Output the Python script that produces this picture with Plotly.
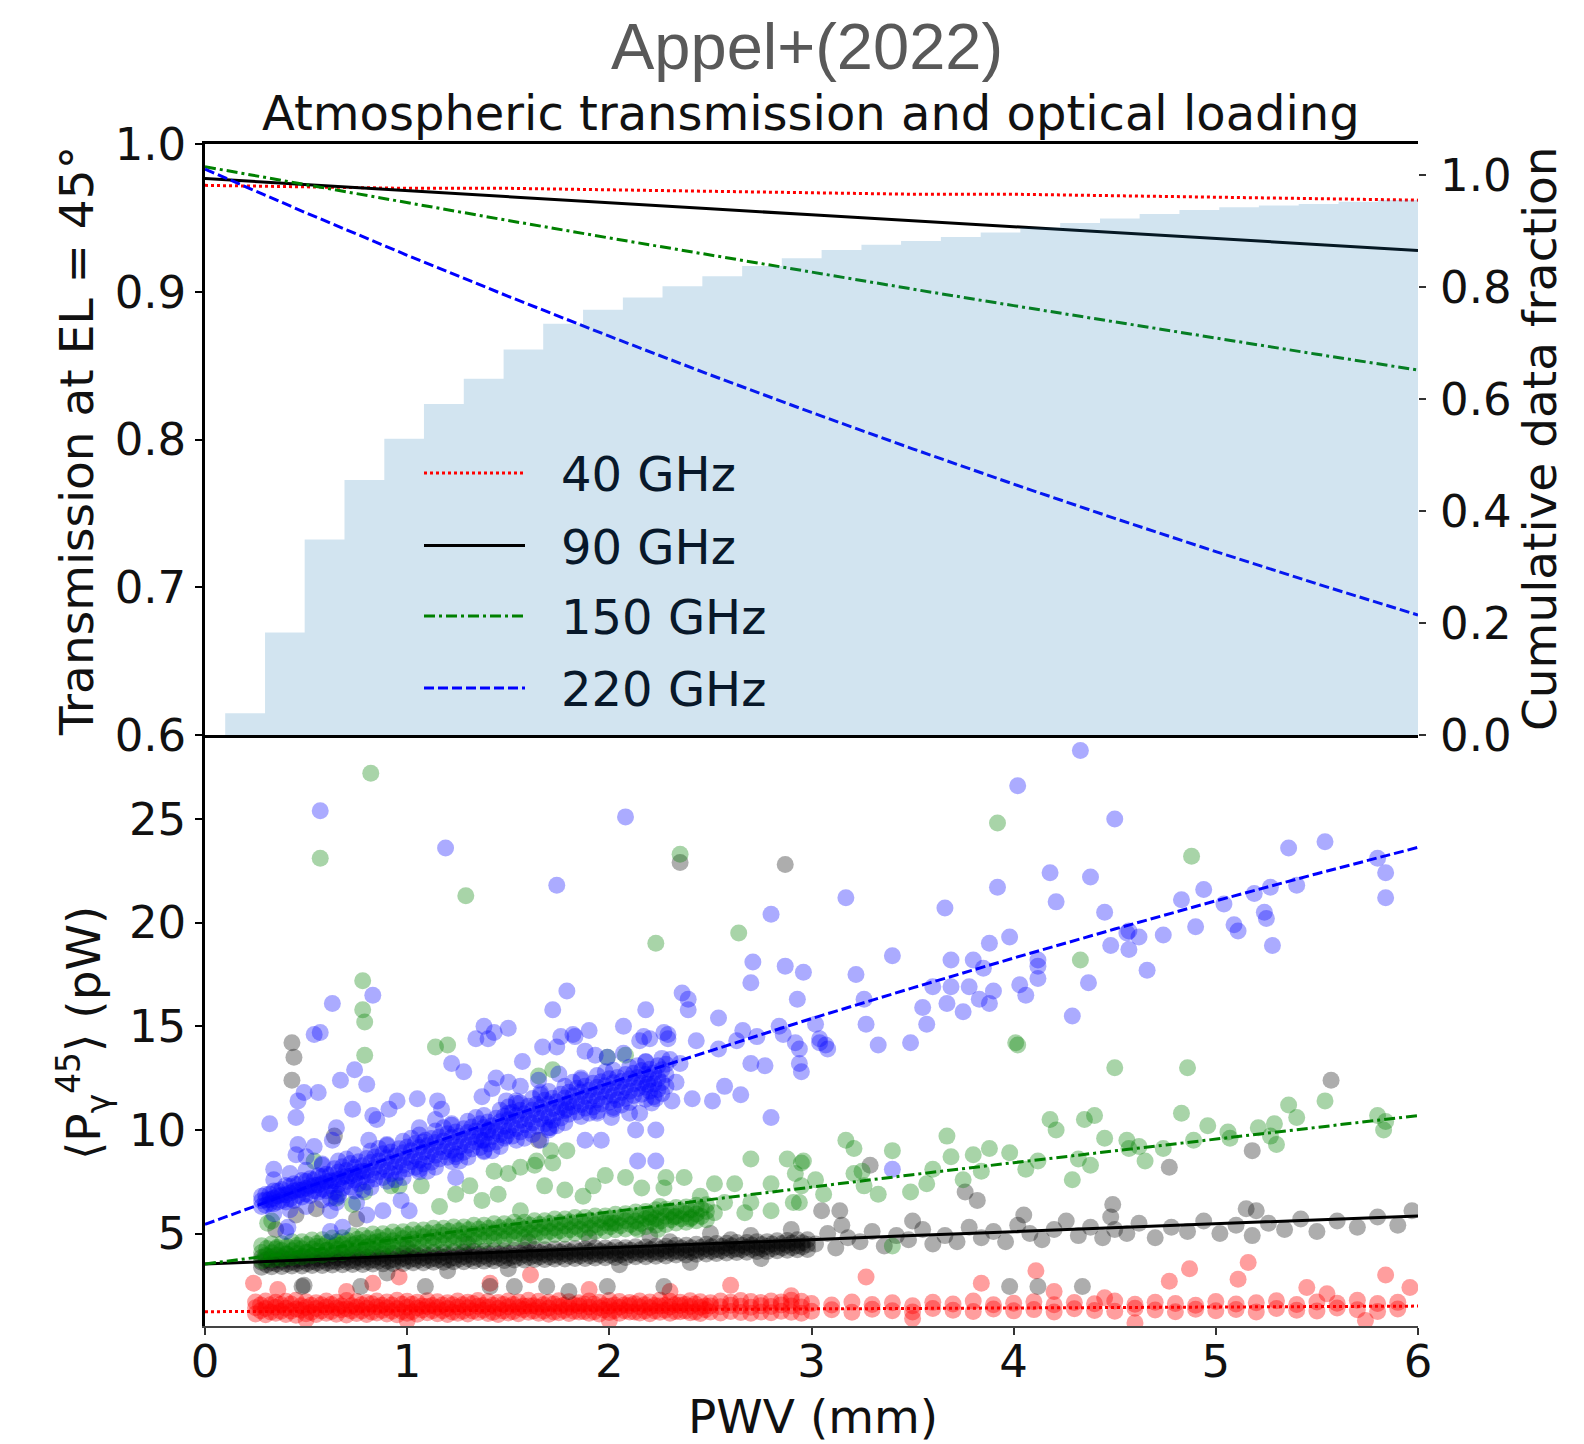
import plotly.graph_objects as go

FIG_W, FIG_H = 1584, 1444
PL, PR, PT, PB = 205, 1418, 144, 1326   # plot-area edges in px


def px_x(p):
    return (p - PL) / (PR - PL)


def px_y(p):
    return (PB - p) / (PB - PT)


# ---------------- top panel : transmission at EL=45 ----------------
pwv_grid = [0, 0.5, 1, 1.5, 2, 2.5, 3, 3.5, 4, 4.5, 5, 5.5, 6]
trans_40 = [0.972, 0.971, 0.970, 0.970, 0.969, 0.968, 0.967, 0.966, 0.966, 0.965, 0.964, 0.963, 0.962]
trans_90 = [0.9767, 0.9725, 0.9684, 0.9643, 0.9602, 0.9561, 0.9521, 0.9480, 0.9440, 0.9400, 0.9360, 0.9320, 0.9280]
trans_150 = [0.9846, 0.9724, 0.9602, 0.9482, 0.9364, 0.9247, 0.9132, 0.9018, 0.8906, 0.8795, 0.8685, 0.8577, 0.8470]
trans_220 = [0.983, 0.9534, 0.9247, 0.8969, 0.8699, 0.8437, 0.8183, 0.7937, 0.7698, 0.7466, 0.7241, 0.7023, 0.6812]

# cumulative data fraction (step histogram, right axis)
hist_edges = [0.100, 0.297, 0.493, 0.690, 0.887, 1.083, 1.280, 1.477, 1.673, 1.870, 2.067,
              2.263, 2.460, 2.657, 2.853, 3.050, 3.247, 3.443, 3.640, 3.837, 4.033,
              4.230, 4.427, 4.623, 4.820, 5.017, 5.213, 5.410, 5.607, 5.803, 6.000]
hist_cum = [0.039, 0.183, 0.349, 0.455, 0.529, 0.591, 0.636, 0.688, 0.734, 0.759,
            0.781, 0.801, 0.819, 0.837, 0.851, 0.866, 0.875, 0.882, 0.889, 0.897,
            0.906, 0.914, 0.922, 0.930, 0.937, 0.942, 0.945, 0.948, 0.952, 0.955]

# ---------------- bottom panel : optical loading fits ----------------
load_40 = [1.23, 1.25, 1.27, 1.30, 1.32, 1.34, 1.37, 1.39, 1.41, 1.43, 1.46, 1.48, 1.50]
load_90 = [3.53, 3.73, 3.92, 4.12, 4.31, 4.51, 4.70, 4.90, 5.09, 5.28, 5.47, 5.66, 5.85]
load_150 = [3.53, 4.17, 4.80, 5.42, 6.04, 6.65, 7.24, 7.84, 8.42, 8.99, 9.57, 10.13, 10.69]
load_220 = [5.44, 7.22, 8.95, 10.63, 12.26, 13.83, 15.37, 16.85, 18.29, 19.69, 21.05, 22.36, 23.63]

# ---------------- bottom panel : measured loading points ----------------
# ===== 220 GHz =====
blue_band_x = [0.28, 0.32, 0.36, 0.40, 0.44, 0.48, 0.52, 0.56, 0.60, 0.64,
               0.68, 0.72, 0.76, 0.80, 0.84, 0.88, 0.92, 0.96, 1.00, 1.04,
               1.08, 1.12, 1.16, 1.20, 1.24, 1.28, 1.32, 1.36, 1.40, 1.44,
               1.48, 1.52, 1.56, 1.60, 1.64, 1.68, 1.72, 1.76, 1.80, 1.84,
               1.88, 1.92, 1.96, 2.00, 2.04, 2.08, 2.12, 2.16, 2.20, 2.24, 2.28]
blue_band_lo = [6.30, 6.44, 6.52, 6.52, 6.60, 6.76, 6.84, 6.99, 7.06, 7.02,
                7.18, 7.24, 7.40, 7.48, 7.63, 7.70, 7.88, 7.95, 8.12, 8.20,
                8.36, 8.44, 8.60, 8.68, 8.84, 8.92, 9.08, 9.15, 9.32, 9.42,
                9.60, 9.70, 9.90, 9.99, 10.18, 10.28, 10.47, 10.58, 10.75, 10.86,
                11.05, 11.10, 11.25, 11.33, 11.46, 11.52, 11.66, 11.72, 11.87, 11.95, 12.10]
blue_band_mid = [6.58, 6.64, 6.82, 6.87, 7.05, 7.10, 7.29, 7.34, 7.51, 7.55,
                 7.73, 7.78, 7.96, 8.01, 8.19, 8.24, 8.43, 8.48, 8.67, 8.73,
                 8.92, 8.97, 9.16, 9.21, 9.40, 9.45, 9.64, 9.69, 9.88, 9.95,
                 10.17, 10.24, 10.46, 10.53, 10.74, 10.82, 11.03, 11.11, 11.32, 11.40,
                 11.61, 11.64, 11.82, 11.86, 12.03, 12.06, 12.23, 12.26, 12.43, 12.48, 12.67]
blue_band_hi = [6.80, 6.90, 7.05, 7.32, 7.40, 7.56, 7.64, 7.79, 7.86, 8.13,
                8.22, 8.38, 8.46, 8.62, 8.69, 8.85, 8.93, 9.09, 9.17, 9.34,
                9.42, 9.58, 9.66, 9.82, 9.90, 10.06, 10.14, 10.30, 10.38, 10.56,
                10.66, 10.85, 10.95, 11.14, 11.24, 11.43, 11.53, 11.72, 11.82, 12.01,
                12.10, 12.25, 12.32, 12.47, 12.53, 12.67, 12.73, 12.87, 12.93, 13.09, 13.17]
blue_band_b_x = [0.30, 0.34, 0.38, 0.42, 0.46, 0.50, 0.54, 0.58, 0.62, 0.66,
                 0.70, 0.74, 0.78, 0.82, 0.86, 0.90, 0.94, 0.98, 1.02, 1.06,
                 1.10, 1.14, 1.18, 1.22, 1.26, 1.30, 1.34, 1.38, 1.42, 1.46,
                 1.50, 1.54, 1.58, 1.62, 1.66, 1.70, 1.74, 1.78, 1.82, 1.86,
                 1.90, 1.94, 1.98, 2.02, 2.06, 2.10, 2.14, 2.18, 2.22, 2.26]
blue_band_b_lo = [6.36, 6.44, 6.60, 6.67, 6.83, 6.91, 7.07, 7.14, 7.29, 7.36,
                  7.51, 7.58, 7.74, 7.82, 7.97, 8.05, 8.21, 8.29, 8.46, 8.54,
                  8.70, 8.78, 8.94, 9.02, 9.18, 9.26, 9.42, 9.50, 9.67, 9.78,
                  9.96, 10.07, 10.25, 10.35, 10.54, 10.64, 10.83, 10.93, 11.12, 11.22,
                  11.38, 11.45, 11.60, 11.66, 11.80, 11.86, 12.00, 12.06, 12.21, 12.29]
blue_band_b_hi = [6.88, 7.05, 7.13, 7.28, 7.36, 7.52, 7.60, 7.75, 7.82, 7.97,
                  8.04, 8.19, 8.27, 8.43, 8.50, 8.66, 8.74, 8.90, 8.99, 9.15,
                  9.23, 9.39, 9.47, 9.63, 9.71, 9.87, 9.95, 10.11, 10.20, 10.39,
                  10.49, 10.68, 10.78, 10.96, 11.07, 11.25, 11.36, 11.54, 11.65, 11.83,
                  11.91, 12.06, 12.13, 12.27, 12.33, 12.47, 12.53, 12.67, 12.74, 12.90]
blue_cloud_x = [0.34, 0.42, 0.50, 0.58, 0.66, 0.74, 0.82, 0.90, 0.98, 1.06,
                1.14, 1.22, 1.30, 1.38, 1.46, 1.54, 1.62, 1.70, 1.78, 1.86,
                1.94, 2.02, 2.10, 2.18, 2.26]
blue_cloud_lo = [5.95, 6.15, 6.30, 6.62, 6.80, 7.05, 7.22, 7.52, 7.70, 7.98,
                 8.20, 8.48, 8.68, 8.95, 9.20, 9.50, 9.78, 10.10, 10.35, 10.65,
                 10.90, 11.08, 11.32, 11.48, 11.75]
blue_cloud_hi = [7.60, 7.90, 8.05, 8.35, 8.50, 8.80, 8.98, 9.25, 9.45, 9.75,
                 9.95, 10.22, 10.42, 10.70, 10.95, 11.28, 11.52, 11.85, 12.10, 12.42,
                 12.62, 12.88, 13.02, 13.28, 13.45]
blue_dense_x = [0.30, 0.34, 0.38, 0.42, 0.46, 0.50, 0.54, 0.58, 0.62, 0.66, 0.70, 0.74, 0.78]
blue_dense_y = [6.62, 6.70, 6.86, 6.95, 7.10, 7.18, 7.33, 7.40, 7.55, 7.62, 7.78, 7.85, 8.00]
blue_scatter = [
    (0.57, 25.4), (1.19, 23.6), (2.08, 25.1), (1.74, 21.8), (2.80, 20.4), (2.71, 18.1), (2.70, 17.1),
    (2.87, 17.9), (2.96, 17.6), (2.93, 16.3), (1.79, 16.7), (1.72, 15.8), (2.18, 15.8), (2.36, 16.6),
    (2.39, 16.3), (2.39, 15.8), (2.54, 15.4), (2.07, 15.0), (1.90, 14.8), (1.83, 14.5), (2.29, 14.4),
    (2.66, 14.8), (2.84, 15.0), (0.83, 16.5), (0.63, 16.1), (0.57, 14.7), (1.38, 15.0), (1.40, 14.4),
    (1.50, 14.9), (1.74, 14.0),
    (4.33, 28.3), (4.02, 26.6), (4.50, 25.0), (5.36, 23.6), (5.54, 23.9), (5.80, 23.1), (5.84, 22.4),
    (5.84, 21.2), (3.17, 21.2), (3.66, 20.7), (3.92, 21.7), (4.18, 22.4), (4.38, 22.2), (4.21, 21.0),
    (4.45, 20.5), (4.94, 21.6), (4.83, 21.1), (5.04, 20.9), (5.19, 21.4), (5.27, 21.7), (5.40, 21.8),
    (5.24, 20.5), (5.25, 20.2), (5.09, 19.9), (5.11, 19.6), (5.28, 18.9), (4.90, 19.8), (4.74, 19.4),
    (4.62, 19.3), (4.57, 19.6), (4.48, 18.9), (4.57, 18.7), (4.66, 17.7), (4.37, 17.1), (4.29, 15.5),
    (4.12, 18.2), (4.12, 17.9), (4.12, 17.3), (4.03, 17.0), (4.06, 16.5), (3.98, 19.3), (3.88, 19.0),
    (3.80, 18.2), (3.69, 18.2), (3.85, 17.8), (3.78, 16.9), (3.90, 16.7), (3.83, 16.3), (3.88, 16.1),
    (3.69, 16.9), (3.60, 16.9), (3.67, 16.1), (3.55, 15.9), (3.75, 15.7), (3.57, 15.1), (3.40, 18.4),
    (3.22, 17.5), (3.26, 16.3), (3.02, 15.1), (3.27, 15.1), (3.04, 14.4), (3.33, 14.1), (3.49, 14.2),
    (3.07, 14.1), (4.56, 19.5),
    (0.54, 14.6), (0.32, 10.3), (0.45, 10.6), (0.49, 11.8), (0.56, 11.8), (0.46, 11.4), (0.74, 12.9),
    (0.67, 12.4), (0.80, 12.2), (0.73, 11.0), (0.83, 10.7), (0.65, 10.1), (0.46, 9.3), (0.45, 8.8),
    (0.34, 8.1), (0.95, 11.4), (1.05, 11.5), (1.15, 11.4), (1.22, 13.2), (1.28, 12.8), (1.34, 14.4),
    (1.43, 14.7), (1.44, 12.5), (1.42, 12.0), (1.57, 13.3), (1.67, 14.0), (1.76, 14.5), (1.82, 14.6),
    (1.88, 13.8), (1.93, 13.6), (1.99, 13.5), (2.07, 13.7), (2.15, 14.3), (2.20, 14.4), (2.29, 14.6),
    (2.19, 12.2), (2.21, 11.3), (2.31, 11.4), (2.15, 10.8), (2.01, 10.6), (1.94, 10.8), (2.13, 10.0),
    (2.14, 8.5), (1.88, 9.5), (1.79, 11.0), (1.71, 10.1), (1.66, 9.5), (1.49, 9.7), (1.24, 7.7),
    (0.88, 6.1), (0.97, 6.6), (1.01, 6.1), (0.80, 5.9), (0.62, 6.1), (0.40, 5.1), (0.41, 5.3),
    (0.62, 5.1), (0.68, 5.3), (0.75, 6.5), (0.65, 6.5), (0.50, 8.7), (0.54, 9.2), (0.63, 9.5),
    (0.85, 10.5), (0.91, 11.0), (1.06, 10.1), (1.14, 10.5), (1.17, 11.0), (1.09, 9.5), (0.81, 9.5),
    (1.24, 8.7), (1.37, 9.5), (1.40, 10.0), (1.50, 10.8), (1.56, 11.3), (1.66, 11.8), (1.56, 12.1),
    (1.50, 12.3), (1.65, 12.4), (1.75, 12.7), (1.49, 11.4), (1.37, 11.6),
    (2.23, 10.0), (2.23, 8.5), (1.96, 9.5), (2.10, 10.8), (2.41, 11.5), (2.51, 11.4), (2.57, 12.1),
    (2.65, 11.7), (2.70, 13.2), (2.80, 10.6), (2.86, 14.6), (2.92, 14.2), (2.94, 13.2), (2.27, 14.7),
    (2.17, 14.5), (2.35, 13.2), (2.43, 14.3), (2.33, 12.3), (2.23, 11.5), (2.54, 13.9), (2.63, 14.3),
    (2.73, 14.5), (2.77, 13.1), (3.04, 14.2), (3.08, 13.9), (2.95, 12.8), (2.94, 13.9), (3.40, 8.1),
    (0.62, 6.7), (0.70, 8.6), (0.78, 7.1), (0.86, 9.1), (0.94, 7.6), (1.02, 9.6), (1.10, 8.0),
    (1.18, 10.1), (1.26, 8.5), (1.34, 10.6), (1.42, 9.0), (1.50, 11.1), (1.58, 9.6), (1.66, 11.7),
    (1.74, 10.2), (1.82, 12.3), (1.90, 10.8), (1.98, 12.8), (2.06, 11.2), (2.14, 13.1), (2.22, 11.6),
    (2.30, 13.4), (0.58, 8.3), (0.66, 6.9), (0.90, 9.3), (1.06, 8.1), (1.22, 10.3), (1.38, 9.0),
    (1.54, 11.4), (1.70, 10.0), (1.86, 12.5), (2.02, 11.0), (2.18, 13.3),
]

# ===== 150 GHz =====
green_band_x = [0.28, 0.33, 0.38, 0.43, 0.48, 0.53, 0.58, 0.63, 0.68, 0.73,
                0.78, 0.83, 0.88, 0.93, 0.98, 1.03, 1.08, 1.13, 1.18, 1.23,
                1.28, 1.33, 1.38, 1.43, 1.48, 1.53, 1.58, 1.63, 1.68, 1.73,
                1.78, 1.83, 1.88, 1.93, 1.98, 2.03, 2.08, 2.13, 2.18, 2.23,
                2.28, 2.33, 2.38, 2.43, 2.48]
green_band_lo = [3.69, 3.75, 3.78, 3.85, 3.87, 3.94, 3.97, 4.04, 4.07, 4.14,
                 4.17, 4.23, 4.26, 4.33, 4.36, 4.42, 4.44, 4.50, 4.52, 4.57,
                 4.59, 4.65, 4.67, 4.72, 4.74, 4.80, 4.82, 4.87, 4.89, 4.95,
                 4.97, 5.02, 5.04, 5.10, 5.12, 5.18, 5.22, 5.29, 5.33, 5.40,
                 5.44, 5.51, 5.55, 5.62, 5.66]
green_band_mid = [4.08, 4.07, 4.18, 4.17, 4.27, 4.26, 4.37, 4.36, 4.47, 4.46,
                  4.57, 4.55, 4.66, 4.65, 4.76, 4.74, 4.84, 4.82, 4.92, 4.89,
                  4.99, 4.97, 5.07, 5.04, 5.14, 5.12, 5.22, 5.19, 5.29, 5.27,
                  5.37, 5.34, 5.44, 5.42, 5.52, 5.50, 5.62, 5.61, 5.73, 5.72,
                  5.84, 5.83, 5.95, 5.94, 6.06]
green_band_hi = [4.41, 4.50, 4.51, 4.60, 4.60, 4.69, 4.70, 4.79, 4.80, 4.89,
                 4.90, 4.98, 4.99, 5.08, 5.09, 5.17, 5.17, 5.25, 5.25, 5.32,
                 5.32, 5.40, 5.40, 5.47, 5.47, 5.55, 5.55, 5.62, 5.62, 5.70,
                 5.70, 5.77, 5.77, 5.85, 5.85, 5.93, 5.95, 6.04, 6.06, 6.15,
                 6.17, 6.26, 6.28, 6.37, 6.39]
green_band_b_x = [0.305, 0.355, 0.405, 0.455, 0.505, 0.555, 0.605, 0.655, 0.705, 0.755,
                  0.805, 0.855, 0.905, 0.955, 1.005, 1.055, 1.105, 1.155, 1.205, 1.255,
                  1.305, 1.355, 1.405, 1.455, 1.505, 1.555, 1.605, 1.655, 1.705, 1.755,
                  1.805, 1.855, 1.905, 1.955, 2.005, 2.055, 2.105, 2.155, 2.205, 2.255,
                  2.305, 2.355, 2.405, 2.455]
green_band_b_lo = [3.90, 3.95, 4.00, 4.04, 4.09, 4.14, 4.19, 4.24, 4.29, 4.34,
                   4.38, 4.43, 4.48, 4.53, 4.57, 4.61, 4.65, 4.69, 4.73, 4.76,
                   4.80, 4.84, 4.88, 4.91, 4.95, 4.99, 5.03, 5.06, 5.10, 5.14,
                   5.18, 5.21, 5.25, 5.29, 5.33, 5.38, 5.44, 5.49, 5.55, 5.60,
                   5.66, 5.71, 5.77, 5.82]
green_band_b_hi = [4.28, 4.33, 4.38, 4.42, 4.47, 4.52, 4.57, 4.62, 4.67, 4.72,
                   4.76, 4.81, 4.86, 4.91, 4.95, 4.99, 5.03, 5.07, 5.11, 5.14,
                   5.18, 5.22, 5.26, 5.29, 5.33, 5.37, 5.41, 5.44, 5.48, 5.52,
                   5.56, 5.59, 5.63, 5.67, 5.71, 5.76, 5.82, 5.87, 5.93, 5.98,
                   6.04, 6.09, 6.15, 6.20]
green_dense_x = [0.30, 0.35, 0.40, 0.45, 0.50, 0.55, 0.60, 0.65, 0.70, 0.75, 0.80, 0.85, 0.90]
green_dense_y = [3.95, 4.25, 4.02, 4.30, 4.10, 4.38, 4.18, 4.45, 4.25, 4.52, 4.33, 4.60, 4.42]
green_scatter = [
    (0.82, 27.2), (0.57, 23.1), (1.29, 21.3), (2.35, 23.3), (2.23, 19.0), (2.64, 19.5), (0.78, 17.2),
    (0.78, 15.8), (0.79, 15.2), (1.20, 14.1), (3.92, 24.8), (4.88, 23.2), (4.33, 18.2), (4.01, 14.2),
    (0.79, 13.6), (1.14, 14.0), (1.99, 13.5), (1.65, 12.6), (1.71, 9.0), (1.64, 8.5), (1.56, 8.2),
    (1.43, 8.0), (1.98, 7.8), (2.28, 7.7), (0.31, 5.5), (0.54, 8.5), (0.65, 6.7), (0.73, 6.4),
    (0.79, 7.0), (0.92, 7.3), (0.96, 7.3), (1.07, 7.3), (1.16, 6.3), (1.24, 6.9), (1.31, 7.3),
    (1.37, 6.6), (1.45, 6.9), (1.56, 6.1), (1.68, 7.3), (1.78, 7.1), (1.87, 6.8), (1.92, 7.3),
    (2.01, 5.5), (2.14, 5.2), (2.20, 5.8), (2.16, 7.2), (2.27, 7.2), (2.25, 6.3), (2.32, 5.8),
    (2.08, 13.6), (1.72, 12.9), (1.79, 9.0), (1.63, 8.3), (1.72, 8.4), (1.50, 7.9), (2.08, 7.7),
    (2.37, 7.7), (2.70, 8.6), (2.88, 8.6), (2.95, 8.4), (2.52, 7.4), (2.62, 7.4), (2.80, 7.4),
    (2.92, 7.9), (2.45, 6.8), (2.57, 6.5), (2.70, 6.5), (2.91, 6.5), (2.80, 6.1), (2.67, 6.0),
    (2.52, 6.0), (2.40, 5.7), (2.24, 5.2), (0.33, 5.6),
    (4.02, 14.1), (4.50, 13.0), (4.86, 13.0), (5.54, 11.4), (5.36, 11.2), (5.40, 10.6), (4.83, 10.8),
    (4.96, 10.2), (5.06, 9.9), (5.21, 10.1), (5.29, 10.3), (5.27, 9.7), (5.30, 9.3), (5.80, 10.7),
    (5.84, 10.4), (5.83, 10.0), (4.18, 10.5), (4.21, 10.0), (4.35, 10.5), (4.40, 10.7), (4.45, 9.6),
    (4.56, 9.5), (4.57, 9.1), (4.62, 9.2), (4.65, 8.5), (4.74, 9.1), (4.89, 9.5), (5.07, 9.6),
    (4.32, 8.6), (4.38, 8.3), (4.29, 7.6), (3.98, 8.9), (4.06, 8.1), (4.12, 8.5), (3.88, 9.1),
    (3.80, 8.8), (3.84, 8.0), (3.75, 7.6), (3.67, 9.7), (3.69, 8.7), (3.60, 8.1), (3.57, 7.4),
    (3.40, 9.0), (3.49, 7.0), (3.33, 6.9), (3.26, 7.3), (3.21, 9.1), (3.17, 9.5), (3.21, 7.9),
    (3.25, 8.0), (3.02, 7.6), (3.06, 6.9), (2.96, 8.5), (2.95, 7.3), (2.94, 6.5), (3.40, 4.4),
]

# ===== 90 GHz =====
black_band_x = [0.28, 0.33, 0.38, 0.43, 0.48, 0.53, 0.58, 0.63, 0.68, 0.73,
                0.78, 0.83, 0.88, 0.93, 0.98, 1.03, 1.08, 1.13, 1.18, 1.23,
                1.28, 1.33, 1.38, 1.43, 1.48, 1.53, 1.58, 1.63, 1.68, 1.73,
                1.78, 1.83, 1.88, 1.93, 1.98, 2.03, 2.08, 2.13, 2.18, 2.23,
                2.28, 2.33, 2.38, 2.43, 2.48, 2.53, 2.58, 2.63, 2.68, 2.73,
                2.78, 2.83, 2.88, 2.93, 2.98]
black_band_lo = [3.38, 3.40, 3.41, 3.43, 3.43, 3.46, 3.46, 3.48, 3.49, 3.51,
                 3.51, 3.53, 3.54, 3.56, 3.56, 3.59, 3.59, 3.61, 3.62, 3.64,
                 3.64, 3.67, 3.67, 3.69, 3.70, 3.72, 3.72, 3.75, 3.75, 3.77,
                 3.77, 3.80, 3.80, 3.82, 3.83, 3.85, 3.85, 3.88, 3.88, 3.91,
                 3.92, 3.96, 3.97, 4.00, 4.01, 4.04, 4.06, 4.09, 4.10, 4.13,
                 4.14, 4.17, 4.19, 4.22, 4.23]
black_band_mid = [3.62, 3.59, 3.65, 3.62, 3.67, 3.65, 3.70, 3.67, 3.73, 3.70,
                  3.75, 3.72, 3.78, 3.75, 3.80, 3.78, 3.83, 3.80, 3.86, 3.83,
                  3.88, 3.86, 3.91, 3.88, 3.94, 3.91, 3.96, 3.94, 3.99, 3.96,
                  4.01, 3.99, 4.04, 4.01, 4.07, 4.04, 4.09, 4.07, 4.12, 4.10,
                  4.16, 4.15, 4.21, 4.19, 4.25, 4.23, 4.30, 4.26, 4.34, 4.32,
                  4.38, 4.36, 4.43, 4.41, 4.47]
black_band_hi = [3.85, 3.88, 3.88, 3.91, 3.90, 3.94, 3.93, 3.96, 3.96, 3.99,
                 3.98, 4.01, 4.01, 4.04, 4.03, 4.07, 4.06, 4.09, 4.09, 4.12,
                 4.11, 4.15, 4.14, 4.17, 4.17, 4.20, 4.19, 4.23, 4.22, 4.25,
                 4.24, 4.28, 4.27, 4.30, 4.30, 4.33, 4.32, 4.36, 4.35, 4.39,
                 4.39, 4.44, 4.44, 4.48, 4.48, 4.52, 4.53, 4.57, 4.57, 4.61,
                 4.61, 4.65, 4.66, 4.70, 4.70]
black_band_b_x = [0.305, 0.355, 0.405, 0.455, 0.505, 0.555, 0.605, 0.655, 0.705, 0.755,
                  0.805, 0.855, 0.905, 0.955, 1.005, 1.055, 1.105, 1.155, 1.205, 1.255,
                  1.305, 1.355, 1.405, 1.455, 1.505, 1.555, 1.605, 1.655, 1.705, 1.755,
                  1.805, 1.855, 1.905, 1.955, 2.005, 2.055, 2.105, 2.155, 2.205, 2.255,
                  2.305, 2.355, 2.405, 2.455, 2.505, 2.555, 2.605, 2.655, 2.705, 2.755,
                  2.805, 2.855, 2.905, 2.955]
black_band_b_lo = [3.50, 3.53, 3.53, 3.55, 3.56, 3.58, 3.58, 3.61, 3.61, 3.63,
                   3.63, 3.66, 3.66, 3.68, 3.69, 3.71, 3.71, 3.74, 3.74, 3.76,
                   3.77, 3.79, 3.79, 3.82, 3.82, 3.84, 3.85, 3.87, 3.87, 3.89,
                   3.90, 3.92, 3.92, 3.95, 3.95, 3.97, 3.98, 4.00, 4.01, 4.03,
                   4.05, 4.09, 4.10, 4.13, 4.14, 4.17, 4.19, 4.22, 4.23, 4.26,
                   4.27, 4.30, 4.32, 4.35]
black_band_b_hi = [3.73, 3.74, 3.76, 3.76, 3.78, 3.80, 3.81, 3.82, 3.84, 3.85,
                   3.86, 3.87, 3.89, 3.90, 3.91, 3.93, 3.94, 3.95, 3.97, 3.98,
                   3.99, 4.01, 4.02, 4.03, 4.05, 4.06, 4.07, 4.09, 4.10, 4.11,
                   4.12, 4.14, 4.15, 4.16, 4.18, 4.19, 4.20, 4.22, 4.23, 4.25,
                   4.28, 4.30, 4.32, 4.34, 4.36, 4.39, 4.41, 4.43, 4.45, 4.47,
                   4.49, 4.52, 4.54, 4.56]
black_scatter = [
    (3.02, 4.5), (3.08, 5.0), (3.12, 4.3), (3.18, 4.8), (3.24, 4.6), (3.30, 5.1), (3.36, 4.4),
    (3.42, 4.9), (3.48, 4.7), (3.55, 5.2), (3.60, 4.5), (3.66, 4.9), (3.72, 4.6), (3.78, 5.3),
    (3.84, 4.8), (3.90, 5.1), (3.96, 4.6), (4.02, 5.4), (4.08, 5.0), (4.14, 4.7), (4.20, 5.2),
    (4.26, 5.6), (4.32, 4.9), (4.38, 5.3), (4.44, 4.8), (4.50, 5.2), (4.56, 5.0), (4.62, 5.5),
    (4.70, 4.8), (4.78, 5.3), (4.86, 5.1), (4.94, 5.6), (5.02, 5.0), (5.10, 5.4), (5.18, 4.9),
    (5.26, 5.5), (5.34, 5.2), (5.42, 5.7), (5.50, 5.1), (5.60, 5.6), (5.70, 5.3), (5.80, 5.8),
    (5.90, 5.4), (5.97, 6.1), (4.05, 5.9), (4.48, 5.8), (3.50, 5.6), (5.20, 6.1), (3.15, 5.4),
    (0.43, 14.2), (0.44, 13.5), (0.43, 12.4), (2.35, 22.9), (2.87, 22.8), (1.65, 9.5), (0.64, 9.7),
    (5.57, 12.4), (5.18, 9.0), (4.77, 8.2), (3.29, 8.3), (3.76, 7.0), (3.82, 6.6), (3.05, 6.1),
    (3.14, 6.1), (4.49, 6.4), (5.15, 6.2), (3.98, 2.44), (4.12, 2.44), (4.34, 2.44), (0.48, 2.44),
    (0.49, 2.5), (0.77, 2.44), (1.09, 2.44), (1.41, 2.44), (1.53, 2.44), (1.69, 2.44), (1.80, 2.2),
    (1.99, 2.44), (2.27, 2.44), (0.45, 5.9), (0.55, 6.2), (0.75, 5.7), (0.35, 5.2), (1.60, 4.6),
    (1.90, 4.8), (2.20, 4.9), (2.50, 5.0), (2.70, 4.9), (2.90, 5.2), (2.40, 3.6), (2.75, 3.8),
    (1.20, 3.2), (1.50, 3.3), (2.05, 3.5), (0.90, 3.1), (2.60, 4.7), (2.30, 4.6), (1.30, 4.5),
    (1.00, 4.3),
]

# ===== 40 GHz =====
red_band_x = [0.25, 0.30, 0.35, 0.40, 0.45, 0.50, 0.55, 0.60, 0.65, 0.70,
              0.75, 0.80, 0.85, 0.90, 0.95, 1.00, 1.05, 1.10, 1.15, 1.20,
              1.25, 1.30, 1.35, 1.40, 1.45, 1.50, 1.55, 1.60, 1.65, 1.70,
              1.75, 1.80, 1.85, 1.90, 1.95, 2.00, 2.05, 2.10, 2.15, 2.20,
              2.25, 2.30, 2.35, 2.40, 2.45, 2.50, 2.55, 2.60, 2.65, 2.70,
              2.75, 2.80, 2.85, 2.90, 2.95]
red_band_lo = [1.12, 1.08, 1.15, 1.10, 1.06, 1.13, 1.09, 1.16, 1.11, 1.07,
               1.14, 1.10, 1.17, 1.12, 1.08, 1.15, 1.11, 1.18, 1.13, 1.09,
               1.16, 1.12, 1.19, 1.14, 1.10, 1.17, 1.13, 1.20, 1.15, 1.11,
               1.18, 1.14, 1.21, 1.16, 1.12, 1.19, 1.15, 1.22, 1.17, 1.13,
               1.20, 1.16, 1.23, 1.18, 1.14, 1.21, 1.17, 1.24, 1.19, 1.15,
               1.22, 1.18, 1.25, 1.20, 1.16]
red_band_mid = [1.42, 1.38, 1.45, 1.40, 1.36, 1.43, 1.39, 1.46, 1.41, 1.37,
                1.44, 1.40, 1.47, 1.42, 1.38, 1.45, 1.41, 1.48, 1.43, 1.39,
                1.46, 1.42, 1.49, 1.44, 1.40, 1.47, 1.43, 1.50, 1.45, 1.41,
                1.48, 1.44, 1.51, 1.46, 1.42, 1.49, 1.45, 1.52, 1.47, 1.43,
                1.50, 1.46, 1.53, 1.48, 1.44, 1.51, 1.47, 1.54, 1.49, 1.45,
                1.52, 1.48, 1.55, 1.50, 1.46]
red_band_hi = [1.70, 1.75, 1.68, 1.73, 1.78, 1.71, 1.66, 1.74, 1.69, 1.77,
               1.72, 1.67, 1.75, 1.70, 1.78, 1.73, 1.68, 1.76, 1.71, 1.66,
               1.74, 1.69, 1.77, 1.72, 1.67, 1.75, 1.70, 1.78, 1.73, 1.68,
               1.76, 1.71, 1.66, 1.74, 1.69, 1.77, 1.72, 1.67, 1.75, 1.70,
               1.78, 1.73, 1.68, 1.76, 1.71, 1.66, 1.74, 1.69, 1.77, 1.72,
               1.67, 1.75, 1.70, 1.78, 1.73]
red_band_b_x = [0.275, 0.325, 0.375, 0.425, 0.475, 0.525, 0.575, 0.625, 0.675, 0.725,
                0.775, 0.825, 0.875, 0.925, 0.975, 1.025, 1.075, 1.125, 1.175, 1.225,
                1.275, 1.325, 1.375, 1.425, 1.475, 1.525, 1.575, 1.625, 1.675, 1.725,
                1.775, 1.825, 1.875, 1.925, 1.975, 2.025, 2.075, 2.125, 2.175, 2.225,
                2.275, 2.325, 2.375, 2.425, 2.475]
red_band_b_y = [1.28, 1.56, 1.25, 1.60, 1.30, 1.54, 1.27, 1.58, 1.32, 1.52,
                1.26, 1.61, 1.29, 1.55, 1.24, 1.59, 1.31, 1.53, 1.28, 1.57,
                1.25, 1.62, 1.30, 1.54, 1.27, 1.58, 1.33, 1.52, 1.26, 1.60,
                1.29, 1.56, 1.24, 1.59, 1.31, 1.55, 1.28, 1.61, 1.26, 1.53,
                1.30, 1.57, 1.27, 1.60, 1.32]
red_band_c_y = [1.55, 1.22, 1.58, 1.26, 1.52, 1.20, 1.57, 1.24, 1.50, 1.27,
                1.56, 1.21, 1.54, 1.25, 1.59, 1.23, 1.51, 1.28, 1.55, 1.22,
                1.57, 1.26, 1.53, 1.20, 1.58, 1.24, 1.50, 1.27, 1.56, 1.21,
                1.54, 1.25, 1.59, 1.23, 1.52, 1.28, 1.55, 1.22, 1.57, 1.26,
                1.53, 1.24, 1.58, 1.21, 1.50]
red_far_x = [3.00, 3.10, 3.20, 3.30, 3.40, 3.50, 3.60, 3.70, 3.80, 3.90,
             4.00, 4.10, 4.20, 4.30, 4.40, 4.50, 4.60, 4.70, 4.80, 4.90,
             5.00, 5.10, 5.20, 5.30, 5.40, 5.50, 5.60, 5.70, 5.80, 5.90]
red_far_lo = [1.25, 1.32, 1.20, 1.35, 1.28, 1.22, 1.38, 1.30, 1.24, 1.36,
              1.27, 1.33, 1.21, 1.37, 1.29, 1.25, 1.40, 1.31, 1.23, 1.35,
              1.28, 1.34, 1.22, 1.38, 1.30, 1.26, 1.41, 1.32, 1.24, 1.36]
red_far_hi = [1.62, 1.55, 1.70, 1.58, 1.66, 1.52, 1.68, 1.60, 1.74, 1.56,
              1.64, 1.71, 1.57, 1.67, 1.61, 1.75, 1.59, 1.69, 1.63, 1.54,
              1.72, 1.60, 1.66, 1.76, 1.58, 1.70, 1.64, 1.78, 1.62, 1.68]
red_scatter = [
    (0.24, 2.6), (0.83, 2.6), (0.96, 2.9), (0.36, 2.3), (1.41, 2.6), (1.61, 3.0), (2.30, 2.2),
    (2.60, 2.5), (3.27, 2.9), (3.84, 2.6), (4.11, 3.2), (4.77, 2.7), (4.87, 3.3), (5.11, 2.8),
    (5.16, 3.6), (5.45, 2.4), (5.84, 3.0), (5.96, 2.4), (4.60, 0.7), (5.74, 0.8), (1.00, 0.8),
    (0.50, 0.85), (2.00, 0.8), (3.50, 0.9), (4.20, 2.2), (2.90, 2.0), (1.90, 2.3), (0.70, 2.2),
    (4.45, 1.9), (5.55, 2.1),
]

band_labels = ["40 GHz", "90 GHz", "150 GHz", "220 GHz"]
band_colors = ["#ff0000", "#000000", "#008000", "#0000ff"]
band_dashes = ["3px,3px", "solid", "11px,4px,3px,4px", "10px,4px"]
point_alpha = [0.38, 0.32, 0.34, 0.33]


# ---------------- assemble point sets ----------------
def collect(rows, pairs):
    xs, ys = [], []
    for bx, by in rows:
        xs += list(bx)
        ys += list(by)
    xs += [p[0] for p in pairs]
    ys += [p[1] for p in pairs]
    return xs, ys


red_x, red_y = collect([(red_band_x, red_band_lo), (red_band_x, red_band_mid), (red_band_x, red_band_hi),
                        (red_band_b_x, red_band_b_y), (red_band_b_x, red_band_c_y),
                        (red_far_x, red_far_lo), (red_far_x, red_far_hi)], red_scatter)
black_x, black_y = collect([(black_band_x, black_band_lo), (black_band_x, black_band_mid),
                            (black_band_x, black_band_hi), (black_band_b_x, black_band_b_lo),
                            (black_band_b_x, black_band_b_hi)], black_scatter)
green_x, green_y = collect([(green_band_x, green_band_lo), (green_band_x, green_band_mid),
                            (green_band_x, green_band_hi), (green_band_b_x, green_band_b_lo),
                            (green_band_b_x, green_band_b_hi), (green_dense_x, green_dense_y)],
                           green_scatter)
blue_x, blue_y = collect([(blue_band_x, blue_band_lo), (blue_band_x, blue_band_mid),
                          (blue_band_x, blue_band_hi), (blue_band_b_x, blue_band_b_lo),
                          (blue_band_b_x, blue_band_b_hi), (blue_cloud_x, blue_cloud_lo),
                          (blue_cloud_x, blue_cloud_hi), (blue_dense_x, blue_dense_y)],
                         blue_scatter)

fig = go.Figure()

# top panel: histogram on right axis
fig.add_trace(go.Scatter(x=hist_edges, y=hist_cum + [hist_cum[-1]], mode="lines",
                         line=dict(width=0, shape="hv"), fill="tozeroy",
                         fillcolor="rgba(31,119,180,0.2)", xaxis="x2", yaxis="y3",
                         showlegend=False, hoverinfo="skip"))
for lab, col, dsh, tr in zip(band_labels, band_colors, band_dashes,
                              [trans_40, trans_90, trans_150, trans_220]):
    fig.add_trace(go.Scatter(x=pwv_grid, y=tr, mode="lines", name=lab,
                             line=dict(color=col, width=3, dash=dsh),
                             xaxis="x2", yaxis="y2", showlegend=False))

# bottom panel: points
for (px_, py_), col, a in zip([(red_x, red_y), (black_x, black_y), (green_x, green_y), (blue_x, blue_y)],
                              band_colors, point_alpha):
    fig.add_trace(go.Scatter(x=px_, y=py_, mode="markers",
                             marker=dict(size=17, color=col, opacity=a, line=dict(width=0)),
                             xaxis="x", yaxis="y", showlegend=False, hoverinfo="skip"))
for lab, col, dsh, ld in zip(band_labels, band_colors, band_dashes,
                              [load_40, load_90, load_150, load_220]):
    fig.add_trace(go.Scatter(x=pwv_grid, y=ld, mode="lines", name=lab,
                             line=dict(color=col, width=3, dash=dsh),
                             xaxis="x", yaxis="y", showlegend=False))

FONT = "DejaVu Sans"
TICKF = dict(family=FONT, size=45, color="#111111")

fig.update_layout(
    width=FIG_W, height=FIG_H,
    margin=dict(l=PL, r=FIG_W - PR, t=PT, b=FIG_H - PB),
    paper_bgcolor="white", plot_bgcolor="rgba(0,0,0,0)",
    showlegend=False,
    xaxis=dict(domain=[0, 1], range=[0, 6], anchor="y", tickvals=[0, 1, 2, 3, 4, 5, 6],
               ticks="outside", ticklen=7, tickwidth=2, tickcolor="#333333",
               ticklabelstandoff=-12,
               showline=True, linecolor="#444444", linewidth=2, tickfont=TICKF,
               showgrid=False, zeroline=False),
    xaxis2=dict(domain=[0, 1], range=[0, 6], anchor="y2", matches="x", showticklabels=False,
                ticks="", showline=True, mirror=True, linecolor="#000000", linewidth=2.5,
                showgrid=False, zeroline=False),
    yaxis=dict(domain=[0, 0.5], range=[0.54, 29.05], anchor="x", tickvals=[5, 10, 15, 20, 25],
               ticks="outside", ticklen=7, tickwidth=2, tickcolor="#000000",
               showline=True, linecolor="#000000", linewidth=2.5, tickfont=TICKF,
               showgrid=False, zeroline=False),
    yaxis2=dict(domain=[0.5, 1], range=[0.6, 1.0], anchor="x2",
                tickvals=[0.6, 0.7, 0.8, 0.9, 1.0], ticktext=["0.6", "0.7", "0.8", "0.9", "1.0"],
                ticks="outside", ticklen=7, tickwidth=2, tickcolor="#000000",
                showline=True, linecolor="#000000", linewidth=2.5, tickfont=TICKF,
                showgrid=False, zeroline=False),
    yaxis3=dict(overlaying="y2", side="right", anchor="x2", range=[0, 1.055],
                tickvals=[0, 0.2, 0.4, 0.6, 0.8, 1.0],
                ticktext=["0.0", "0.2", "0.4", "0.6", "0.8", "1.0"],
                ticks="outside", ticklen=7, tickwidth=2, tickcolor="#333333",
                ticklabelstandoff=5,
                showline=False, tickfont=TICKF, showgrid=False, zeroline=False),
)

ann = []
ann.append(dict(text="Appel+(2022)", x=px_x(807), y=px_y(46), xref="paper", yref="paper",
                showarrow=False, xanchor="center", yanchor="middle",
                font=dict(family="Liberation Sans, Arial", size=65, color="#595959")))
ann.append(dict(text="Atmospheric transmission and optical loading", x=px_x(811), y=px_y(113),
                xref="paper", yref="paper", showarrow=False, xanchor="center", yanchor="middle",
                font=dict(family=FONT, size=48, color="#111111")))
ann.append(dict(text="Transmission at EL = 45°", x=px_x(76), y=px_y(441), xref="paper", yref="paper",
                showarrow=False, textangle=-90, xanchor="center", yanchor="middle",
                font=dict(family=FONT, size=47, color="#111111")))
ann.append(dict(text="⟨P<sub>γ</sub><sup>45</sup>⟩ (pW)", x=px_x(83), y=px_y(1033),
                xref="paper", yref="paper", showarrow=False, textangle=-90,
                xanchor="center", yanchor="middle",
                font=dict(family=FONT, size=47, color="#111111")))
ann.append(dict(text="Cumulative data fraction", x=px_x(1540), y=px_y(439), xref="paper", yref="paper",
                showarrow=False, textangle=-90, xanchor="center", yanchor="middle",
                font=dict(family=FONT, size=47, color="#111111")))
ann.append(dict(text="PWV (mm)", x=px_x(813), y=px_y(1416), xref="paper", yref="paper",
                showarrow=False, xanchor="center", yanchor="middle",
                font=dict(family=FONT, size=47, color="#111111")))

# legend (drawn manually: long line samples, no frame)
leg_y = [473, 545.5, 616, 688]
shapes = []
for lab, col, dsh, yy in zip(band_labels, band_colors, band_dashes, leg_y):
    shapes.append(dict(type="line", xref="paper", yref="paper", x0=px_x(424), x1=px_x(525),
                       y0=px_y(yy), y1=px_y(yy), line=dict(color=col, width=3, dash=dsh)))
    ann.append(dict(text=lab, x=px_x(559), y=px_y(yy + 1), xref="paper", yref="paper",
                    showarrow=False, xanchor="left", yanchor="middle",
                    font=dict(family=FONT, size=48, color="#08182a")))

fig.update_layout(annotations=ann, shapes=shapes)
fig.write_html("out.html")
